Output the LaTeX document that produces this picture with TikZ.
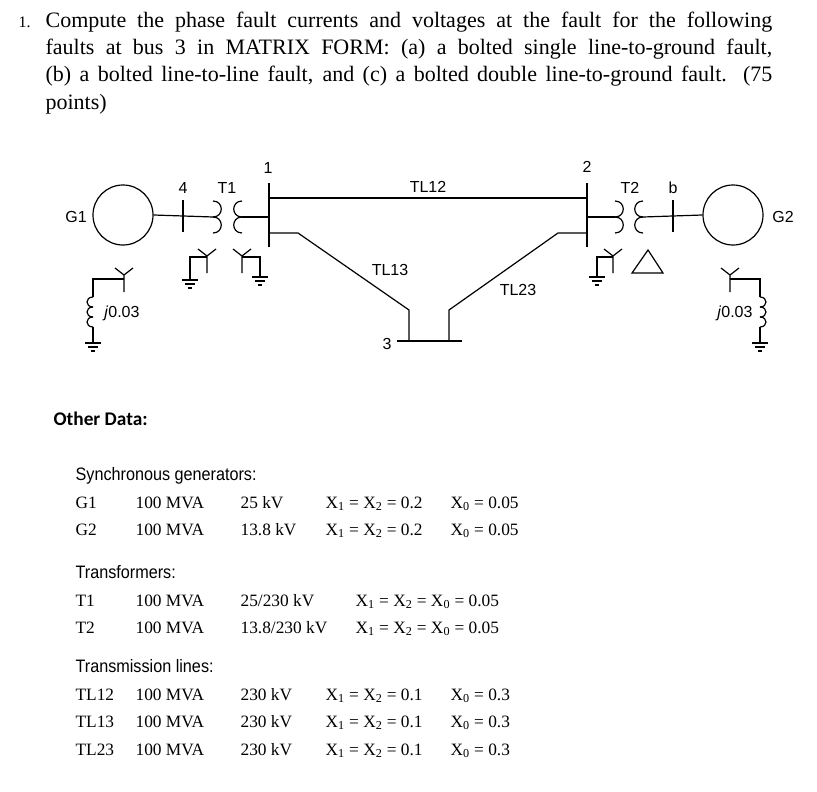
\documentclass[tikz,border=0pt]{standalone}
\usepackage{fontspec}
\setmainfont{Liberation Serif}
\setsansfont{Liberation Sans}
\newfontfamily\condfont[FakeStretch=0.9]{Liberation Sans}
\newfontfamily\calfont{Carlito}
\usetikzlibrary{positioning}

\newcommand{\sub}[1]{\textsubscript{#1}}

\begin{document}
\begin{tikzpicture}[x=0.75pt,y=-0.75pt,
    line width=0.9pt,
    lbl/.style={
        font=\sffamily\fontsize{12}{14}\selectfont,
        inner sep=1pt,
        anchor=center
    },
    title/.style={
        font=\fontsize{16.5}{20}\selectfont,
        anchor=base west,
        inner sep=0pt
    },
    data/.style={
        font=\fontsize{13}{15}\selectfont,
        anchor=base west,
        inner sep=0pt
    },
    head/.style={
        font=\condfont\fontsize{13.5}{15}\selectfont,
        anchor=base west,
        inner sep=0pt
    },
    gen/.style={
        draw,
        circle,
        minimum size=45pt,
        inner sep=0pt
    }]

    \useasboundingbox (0,0) rectangle (817,792);

    % question
    \node[title, font=\fontsize{12}{14}\selectfont] (qnum) at (18,28) {1.};
    \node[title] (q1) at (45,28) {\makebox[545pt][s]{Compute the phase fault currents and voltages at the fault for the following}};
    \node[title] (q2) at (45,55) {\makebox[545pt][s]{faults at bus 3 in MATRIX FORM: (a) a bolted single line-to-ground fault,}};
    \node[title] (q3) at (45,82) {\makebox[545pt][s]{(b) a bolted line-to-line fault, and (c) a bolted double line-to-ground fault. (75}};
    \node[title] (q4) at (45,109) {points)};

    % one-line diagram
    \node[gen] (G1) at (123,215) {};
    \node[gen] (G2) at (733,215) {};
    \node[lbl] at (76,217) {G1};
    \node[lbl] at (783,217) {G2};

    \coordinate (b1t) at (269,183);
    \coordinate (b1b) at (269,247);
    \coordinate (b2t) at (587,183);
    \coordinate (b2b) at (587,247);
    \draw (b1t) -- (b1b);
    \draw (b2t) -- (b2b);
    \draw (183,200) -- (183,232);
    \draw (673,200) -- (673,232);
    \node[lbl] at (268,168) {1};
    \node[lbl] at (587,167) {2};
    \node[lbl] at (183,188) {4};
    \node[lbl] at (673,188) {b};
    \node[lbl] at (227,188) {T1};
    \node[lbl] at (630,188) {T2};

    % transformer windings
    \draw (G1.east) -- (213,217);
    \draw (242,217) -- (269,217);
    \draw (587,217) -- (615,217);
    \draw (643,217) -- (G2.west);
    \foreach \x/\d in {213/11, 242/-11, 615/11, 643/-11}
        \foreach \y in {201,217}
            \draw (\x,\y) .. controls (\x+\d,\y) and (\x+\d,\y+16) .. (\x,\y+16);

    % lines
    \draw (269,198) -- node[lbl, above=3pt] {TL12} (587,198);
    \draw (269,233) -- (298,233) -- (409,310) -- (409,341);
    \draw (587,233) -- (558,233) -- (449,310) -- (449,341);
    \draw (397,341) -- (462,341);
    \node[lbl] at (390,270) {TL13};
    \node[lbl] at (518,290) {TL23};
    \node[lbl] at (387,344) {3};

    % wye points and grounds
    \foreach \x/\y in {124/275, 207/256, 242/256, 613/256, 730/275}
        \draw (\x-9,\y-7) -- (\x,\y) -- (\x+9,\y-7) (\x,\y) -- (\x,\y+17);
    \foreach \x/\y in {93/343, 190/280, 260/277, 597/277, 760/343}
        \draw (\x-8,\y) -- (\x+8,\y) (\x-5,\y+4) -- (\x+5,\y+4) (\x-2,\y+8) -- (\x+2,\y+8);
    \draw (207,257) -- (190,257) -- (190,280);
    \draw (242,257) -- (260,257) -- (260,277);
    \draw (613,257) -- (597,257) -- (597,277);
    \draw (632,273) -- (663,273) -- (648,250) -- cycle;

    % neutral reactors
    \draw (124,279) -- (93,279) -- (93,297);
    \draw (93,327) -- (93,343);
    \draw (730,279) -- (760,279) -- (760,297);
    \draw (760,327) -- (760,343);
    \foreach \x/\d in {93/-8, 760/8}
        \foreach \y in {297,307,317}
            \draw (\x,\y) .. controls (\x+\d,\y) and (\x+\d,\y+10) .. (\x,\y+10);
    \node[lbl] at (122,313) {\textit{j}0.03};
    \node[lbl] at (735,313) {\textit{j}0.03};

    % data
    \node[anchor=base west, inner sep=0pt, font=\calfont\bfseries\fontsize{14.5}{16}\selectfont] (other) at (53,425) {Other Data:};

    \node[head] (hgen) at (75,480) {Synchronous generators:};
    \foreach \n/\v/\k/\y in {G1/25 kV/0.05/508, G2/13.8 kV/0.05/535}{
        \node[data] at (75,\y) {\n};
        \node[data] at (135,\y) {100 MVA};
        \node[data] at (240,\y) {\v};
        \node[data] at (325,\y) {X\sub{1} = X\sub{2} = 0.2};
        \node[data] at (450,\y) {X\sub{0} = \k};
    }

    \node[head] (htr) at (75,578) {Transformers:};
    \foreach \n/\v/\y in {T1/{25/230 kV}/606, T2/{13.8/230 kV}/633}{
        \node[data] at (75,\y) {\n};
        \node[data] at (135,\y) {100 MVA};
        \node[data] at (240,\y) {\v};
        \node[data] at (355,\y) {X\sub{1} = X\sub{2} = X\sub{0} = 0.05};
    }

    \node[head] (hln) at (75,672) {Transmission lines:};
    \foreach \n/\y in {TL12/700, TL13/727, TL23/755}{
        \node[data] at (75,\y) {\n};
        \node[data] at (135,\y) {100 MVA};
        \node[data] at (240,\y) {230 kV};
        \node[data] at (325,\y) {X\sub{1} = X\sub{2} = 0.1};
        \node[data] at (450,\y) {X\sub{0} = 0.3};
    }
\end{tikzpicture}
\end{document}
